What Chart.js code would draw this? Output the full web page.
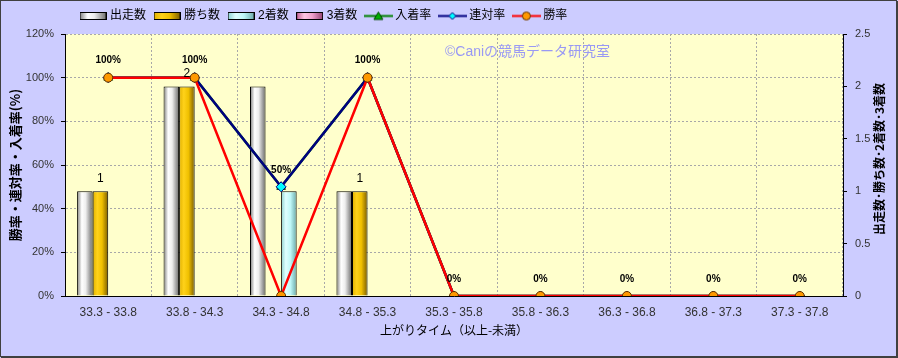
<!DOCTYPE html>
<html lang="ja">
<head>
<meta charset="UTF-8">
<title>上がりタイム別成績</title>
<script src="https://cdn.jsdelivr.net/npm/chart.js@4.4.0/dist/chart.umd.min.js"></script>
<style>
  html, body { margin: 0; padding: 0; background: #fff; }
</style>
</head>
<body>
<canvas id="agariChart" width="898" height="358"></canvas>
<script>
// categories (上がりタイム 以上-未満)
const categories = ['33.3 - 33.8', '33.8 - 34.3', '34.3 - 34.8', '34.8 - 35.3', '35.3 - 35.8',
                    '35.8 - 36.3', '36.3 - 36.8', '36.8 - 37.3', '37.3 - 37.8'];

// counts (right axis)
const runs    = [1, 2, 2, 1, 0, 0, 0, 0, 0];   // 出走数
const wins    = [1, 2, 0, 1, 0, 0, 0, 0, 0];   // 勝ち数
const seconds = [0, 0, 1, 0, 0, 0, 0, 0, 0];   // 2着数
const thirds  = [0, 0, 0, 0, 0, 0, 0, 0, 0];   // 3着数

// rates in % (left axis)
const placeRate  = [100, 100, 50, 100, 0, 0, 0, 0, 0];  // 入着率
const rentaiRate = [100, 100, 50, 100, 0, 0, 0, 0, 0];  // 連対率
const winRate    = [100, 100, 0, 100, 0, 0, 0, 0, 0];   // 勝率

// axis ranges
const rateMax = 120, rateStep = 20;
const countMax = 2.5, countStep = 0.5;

// gradient stops for the bars (left -> right)
const gradStops = {
  '出走数': [[0, '#7a7a7a'], [0.3, '#ffffff'], [0.55, '#eeeeee'], [1, '#6a6a6a']],
  '勝ち数': [[0, '#e0b000'], [0.3, '#ffd21a'], [0.6, '#f0c000'], [1, '#7a5c00']],
  '2着数':  [[0, '#88d0d0'], [0.3, '#e0ffff'], [0.6, '#c0f8f8'], [1, '#68a8a8']],
  '3着数':  [[0, '#c05a90'], [0.3, '#ffc8e4'], [0.6, '#f0a0cc'], [1, '#904070']]
};

function barIcon(stops) {
  const c = document.createElement('canvas');
  c.width = 27; c.height = 8;
  const g = c.getContext('2d');
  const gr = g.createLinearGradient(0, 0, 27, 0);
  stops.forEach(s => gr.addColorStop(s[0], s[1]));
  g.fillStyle = gr;
  g.fillRect(0.5, 0.5, 26, 7);
  g.strokeStyle = '#000';
  g.lineWidth = 1;
  g.strokeRect(0.5, 0.5, 26, 7);
  return c;
}

function lineIcon(color, style, fill, stroke) {
  const c = document.createElement('canvas');
  c.width = 29; c.height = 11;
  const g = c.getContext('2d');
  g.strokeStyle = color; g.lineWidth = 2;
  g.beginPath(); g.moveTo(0, 5.5); g.lineTo(29, 5.5); g.stroke();
  g.fillStyle = fill; g.strokeStyle = stroke; g.lineWidth = 1;
  g.beginPath();
  if (style === 'triangle') {
    g.moveTo(14.5, 1.5); g.lineTo(19, 9); g.lineTo(10, 9); g.closePath();
  } else if (style === 'rectRot') {
    g.moveTo(14.5, 2); g.lineTo(18, 5.5); g.lineTo(14.5, 9); g.lineTo(11, 5.5); g.closePath();
  } else {
    g.arc(14.5, 5.5, 4, 0, Math.PI * 2);
  }
  g.fill(); g.stroke();
  return c;
}

const bgPlugin = {
  id: 'bgPlugin',
  beforeUpdate(chart) {
    const lg = chart.legend;
    if (lg && !lg._wrapped) {
      lg._wrapped = true;
      const fit = lg.fit, draw = lg.draw;
      lg.fit = function () { fit.call(this); this.height = 34; };
      lg.draw = function () {
        const c = this.ctx;
        c.save(); c.translate(72, 0); draw.call(this); c.restore();
      };
    }
  },
  beforeDraw(chart) {
    const c = chart.ctx, a = chart.chartArea;
    c.save();
    c.fillStyle = '#ccccff';
    c.fillRect(0, 0, chart.width, chart.height);
    c.strokeStyle = '#404040';
    c.lineWidth = 1;
    c.strokeRect(0.5, 0.5, chart.width - 2, chart.height - 2);
    c.lineWidth = 2;
    c.beginPath();
    c.moveTo(chart.width - 1, 1); c.lineTo(chart.width - 1, chart.height - 1); c.lineTo(1, chart.height - 1);
    c.stroke();
    c.fillStyle = '#ffffcc';
    c.fillRect(a.left, a.top, a.right - a.left, a.bottom - a.top);
    c.restore();
  },
  beforeDatasetsDraw(chart) {
    const c = chart.ctx;
    // watermark
    c.save();
    c.font = '14px "Liberation Sans", "Noto Sans CJK JP", sans-serif';
    c.fillStyle = '#9999f4';
    c.textAlign = 'left';
    c.textBaseline = 'middle';
    c.fillText('©Caniの競馬データ研究室', 445, 52);
    c.restore();
    // gradient fill for each bar
    chart.data.datasets.forEach((ds, i) => {
      if (ds.type !== 'bar') return;
      const stops = gradStops[ds.label];
      chart.getDatasetMeta(i).data.forEach(el => {
        const x0 = el.x - el.width / 2;
        const gr = c.createLinearGradient(x0, 0, x0 + el.width, 0);
        stops.forEach(s => gr.addColorStop(s[0], s[1]));
        el.options = Object.assign({}, el.options, { backgroundColor: gr });
      });
    });
  },
  afterDatasetsDraw(chart) {
    const c = chart.ctx;
    c.save();
    c.fillStyle = '#000';
    c.textAlign = 'center';
    c.textBaseline = 'middle';
    // 入着率 labels
    c.font = 'bold 10px "Liberation Sans", sans-serif';
    chart.getDatasetMeta(4).data.forEach((pt, i) => {
      c.fillText(placeRate[i] + '%', pt.x, pt.y - 17);
    });
    // 勝ち数 labels (non-zero)
    c.font = '12px "Liberation Sans", sans-serif';
    chart.getDatasetMeta(1).data.forEach((bar, i) => {
      if (wins[i] > 0) c.fillText(String(wins[i]), bar.x, bar.y - 13);
    });
    // right axis title (reads bottom to top)
    c.font = 'bold 12px "Noto Sans CJK JP", sans-serif';
    c.translate(879, 159);
    c.rotate(-Math.PI / 2);
    c.fillText('出走数･勝ち数･2着数･3着数', 0, 0);
    c.restore();
  }
};

const ctx = document.getElementById('agariChart').getContext('2d');
Chart.defaults.font.family = '"Liberation Sans", "Noto Sans CJK JP", sans-serif';

const chart = new Chart(ctx, {
  type: 'bar',
  data: {
    labels: categories,
    datasets: [
      { type: 'bar', label: '出走数', data: runs, yAxisID: 'y1', order: 10, borderColor: '#000', borderWidth: 1 },
      { type: 'bar', label: '勝ち数', data: wins, yAxisID: 'y1', order: 11, borderColor: '#000', borderWidth: 1 },
      { type: 'bar', label: '2着数', data: seconds, yAxisID: 'y1', order: 12, borderColor: '#000', borderWidth: 1 },
      { type: 'bar', label: '3着数', data: thirds, yAxisID: 'y1', order: 13, borderColor: '#000', borderWidth: 1 },
      { type: 'line', label: '入着率', data: placeRate, yAxisID: 'y', order: 2,
        borderColor: '#008000', borderWidth: 2.5, tension: 0,
        pointStyle: 'triangle', pointRadius: 5, pointBackgroundColor: '#00b000', pointBorderColor: '#004000', pointBorderWidth: 1 },
      { type: 'line', label: '連対率', data: rentaiRate, yAxisID: 'y', order: 1,
        borderColor: '#000080', borderWidth: 2.5, tension: 0,
        pointStyle: 'rectRot', pointRadius: 5, pointBackgroundColor: '#00ffff', pointBorderColor: '#000080', pointBorderWidth: 1 },
      { type: 'line', label: '勝率', data: winRate, yAxisID: 'y', order: 0,
        borderColor: '#ff0000', borderWidth: 2.5, tension: 0,
        pointStyle: 'circle', pointRadius: 4.5, pointBackgroundColor: '#ff9900', pointBorderColor: '#603000', pointBorderWidth: 1 }
    ]
  },
  options: {
    responsive: false,
    animation: false,
    devicePixelRatio: 1,
    layout: { padding: 0 },
    datasets: { bar: { barPercentage: 1, categoryPercentage: 0.72 } },
    plugins: {
      tooltip: { enabled: false },
      legend: {
        position: 'top',
        align: 'start',
        labels: {
          usePointStyle: true,
          pointStyleWidth: 22,
          padding: 10,
          color: '#000',
          font: { size: 12 },
          generateLabels(chart) {
            return chart.data.datasets.map((ds, i) => {
              let icon;
              if (ds.type === 'bar') icon = barIcon(gradStops[ds.label]);
              else icon = lineIcon(ds.borderColor, ds.pointStyle, ds.pointBackgroundColor, ds.pointBorderColor);
              return { text: ds.label, pointStyle: icon, fillStyle: 'transparent', strokeStyle: 'transparent',
                       lineWidth: 0, hidden: false, datasetIndex: i, fontColor: '#000' };
            });
          }
        }
      }
    },
    scales: {
      x: {
        afterFit(s) { s.height = 62; },
        grid: { color: '#a8a8a8', drawTicks: false, offset: true },
        border: { color: '#000', width: 1, dash: [2, 2] },
        ticks: { color: '#333', font: { size: 12 }, padding: 9, maxRotation: 0 },
        title: { display: true, text: '上がりタイム（以上-未満）', color: '#000',
                 font: { size: 12, family: '"Noto Sans CJK JP", sans-serif' }, padding: { top: 0, bottom: 20 } }
      },
      y: {
        position: 'left',
        min: 0, max: rateMax,
        afterFit(s) { s.width = 65; },
        grid: { color: '#a8a8a8', tickLength: 4, tickColor: '#000', tickBorderDash: [] },
        border: { color: '#000', width: 1, dash: [2, 2] },
        ticks: { stepSize: rateStep, color: '#333', font: { size: 11 }, padding: 7, callback: v => v + '%' },
        title: { display: true, text: '勝率・連対率・入着率(%)', color: '#000',
                 font: { size: 13, weight: 'bold', family: '"Noto Sans CJK JP", sans-serif' }, padding: { top: 7, bottom: 0 } }
      },
      y1: {
        position: 'right',
        min: 0, max: countMax,
        afterFit(s) { s.width = 55; },
        grid: { drawOnChartArea: false, tickLength: 4, tickColor: '#000' },
        border: { color: '#000', width: 1 },
        ticks: { stepSize: countStep, color: '#333', font: { size: 11 }, padding: 8, callback: v => String(v) }
      }
    }
  },
  plugins: [bgPlugin]
});
</script>
</body>
</html>
